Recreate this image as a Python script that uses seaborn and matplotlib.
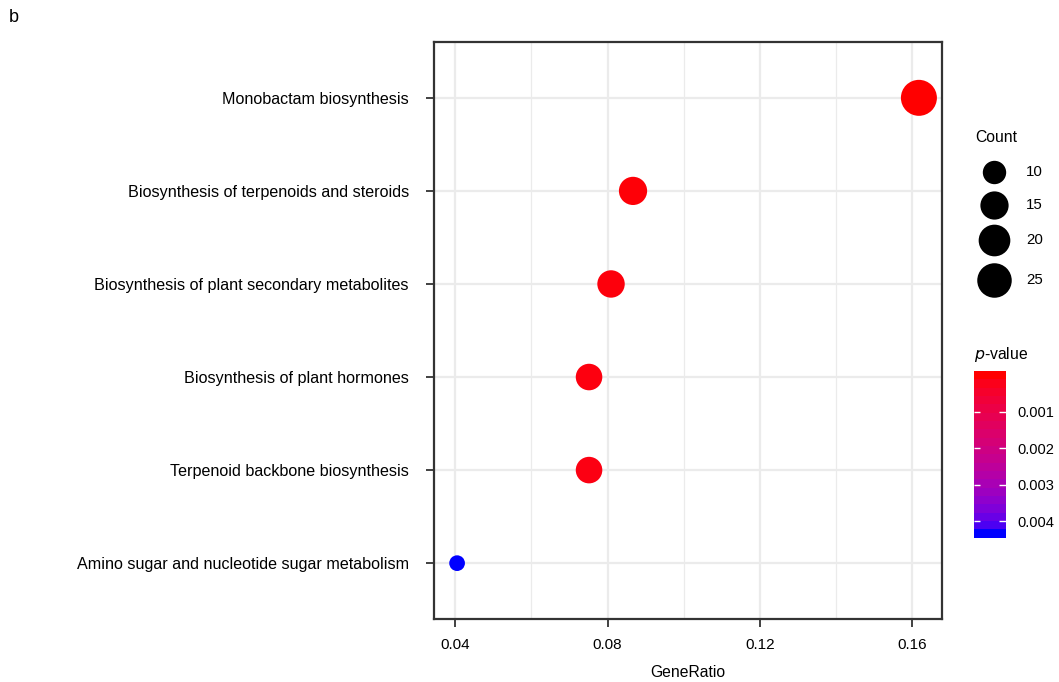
import numpy as np
import pandas as pd
import matplotlib
matplotlib.use("Agg")
import matplotlib.pyplot as plt
from matplotlib.colors import ListedColormap, Normalize
import seaborn as sns

# KEGG enrichment results
pathways = [
    "Monobactam biosynthesis",
    "Biosynthesis of terpenoids and steroids",
    "Biosynthesis of plant secondary metabolites",
    "Biosynthesis of plant hormones",
    "Terpenoid backbone biosynthesis",
    "Amino sugar and nucleotide sugar metabolism",
]
counts = [28, 15, 14, 13, 13, 7]
gene_total = 173
pvalues = [0.000002, 0.00006, 0.00009, 0.00012, 0.00014, 0.00434]

size_breaks = [10, 15, 20, 25]
p_breaks = [0.001, 0.002, 0.003, 0.004]

df = pd.DataFrame({
    "Pathway": pathways,
    "Count": counts,
    "GeneRatio": np.array(counts) / gene_total,
    "pvalue": pvalues,
})


# red -> blue gradient interpolated in CIE Lab
def _srgb_to_lab(rgb):
    rgb = np.asarray(rgb, float)
    lin = np.where(rgb <= 0.04045, rgb / 12.92, ((rgb + 0.055) / 1.055) ** 2.4)
    M = np.array([[0.4124, 0.3576, 0.1805],
                  [0.2126, 0.7152, 0.0722],
                  [0.0193, 0.1192, 0.9505]])
    xyz = lin @ M.T / np.array([0.95047, 1.0, 1.08883])
    f = np.where(xyz > 0.008856, np.cbrt(xyz), 7.787 * xyz + 16 / 116)
    return np.stack([116 * f[..., 1] - 16,
                     500 * (f[..., 0] - f[..., 1]),
                     200 * (f[..., 1] - f[..., 2])], axis=-1)


def _lab_to_srgb(lab):
    L, a, b = lab[..., 0], lab[..., 1], lab[..., 2]
    fy = (L + 16) / 116
    fx = fy + a / 500
    fz = fy - b / 200
    f = np.stack([fx, fy, fz], axis=-1)
    xyz = np.where(f ** 3 > 0.008856, f ** 3, (f - 16 / 116) / 7.787)
    xyz = xyz * np.array([0.95047, 1.0, 1.08883])
    Minv = np.array([[3.2406, -1.5372, -0.4986],
                     [-0.9689, 1.8758, 0.0415],
                     [0.0557, -0.2040, 1.0570]])
    lin = xyz @ Minv.T
    lin = np.clip(lin, 0, 1)
    rgb = np.where(lin <= 0.0031308, 12.92 * lin, 1.055 * lin ** (1 / 2.4) - 0.055)
    return np.clip(rgb, 0, 1)


t = np.linspace(0, 1, 256)[:, None]
lab_lo = _srgb_to_lab([1.0, 0.0, 0.0])
lab_hi = _srgb_to_lab([0.0, 0.0, 1.0])
grad = _lab_to_srgb(lab_lo * (1 - t) + lab_hi * t)
cmap = ListedColormap(grad)
p_norm = Normalize(vmin=min(pvalues), vmax=max(pvalues))

# point size: diameter grows with sqrt of the rescaled count
cmin, cmax = min(counts), max(counts)
d_min_px, d_max_px = 15.7, 36.0
DPI = 100


def count_area(c):
    frac = np.sqrt((c - cmin) / (cmax - cmin))
    d_px = d_min_px + (d_max_px - d_min_px) * frac
    return (d_px * 72 / DPI) ** 2


size_map = {c: count_area(c) for c in sorted(set(counts))}

sns.set_style("white")
plt.rcParams["font.family"] = ["Liberation Sans", "DejaVu Sans"]
plt.rcParams["text.color"] = "black"
plt.rcParams["axes.labelcolor"] = "black"

W, H = 1059, 682
fig = plt.figure(figsize=(W / DPI, H / DPI), dpi=DPI)
ax = fig.add_axes([434 / W, 1 - 619 / H, (942 - 434) / W, (619 - 42) / H])

sns.scatterplot(
    data=df, x="GeneRatio", y="Pathway",
    hue="pvalue", palette=cmap, hue_norm=p_norm,
    size="Count", sizes=size_map,
    linewidth=0, legend=False, zorder=3, ax=ax,
)

# axis ranges with 5% / 0.6-unit padding
xr = df["GeneRatio"].max() - df["GeneRatio"].min()
ax.set_xlim(df["GeneRatio"].min() - 0.05 * xr, df["GeneRatio"].max() + 0.05 * xr)
ax.set_ylim(len(pathways) - 1 + 0.6, -0.6)

ax.set_xticks([0.04, 0.08, 0.12, 0.16])
ax.set_xticks([0.06, 0.10, 0.14], minor=True)
ax.set_xticklabels(["0.04", "0.08", "0.12", "0.16"])
grid_col = "#EBEBEB"
ax.grid(True, which="major", axis="both", color=grid_col, linewidth=1.6, zorder=0)
ax.grid(True, which="minor", axis="x", color=grid_col, linewidth=0.9, zorder=0)
ax.set_axisbelow(True)

edge = "#333333"
for s in ax.spines.values():
    s.set_color(edge)
    s.set_linewidth(1.6)
ax.tick_params(axis="both", which="major", bottom=True, left=True,
               length=5.5, width=1.3, color=edge,
               labelsize=11, labelcolor="black")
ax.tick_params(axis="y", pad=12.5, labelsize=11.6)
ax.tick_params(axis="x", pad=8.5)
ax.tick_params(axis="x", which="minor", length=0)
ax.set_xlabel("GeneRatio", fontsize=11.3, labelpad=9, color="black")
ax.set_ylabel("")

fig.text(9 / W, 1 - 18 / H, "b", fontsize=13, va="center", ha="left")

# size legend, laid out in pixel coordinates
leg = fig.add_axes([0, 0, 1, 1], zorder=5)
leg.set_xlim(0, W)
leg.set_ylim(H, 0)
leg.axis("off")
leg.patch.set_alpha(0)
leg.text(975, 137, "Count", fontsize=11.3, va="center", ha="left")
key_y = [171.7, 205, 240, 280]
for c, yk in zip(size_breaks, key_y):
    leg.scatter([994], [yk], s=count_area(c), color="black", linewidth=0)
    leg.text(1026, yk, str(c), fontsize=10.8, va="center", ha="left")

# p-value colour bar (20 bins)
nbin = 20
pmin, pmax = min(pvalues), max(pvalues)
step = (pmax - pmin) / (nbin - 1)
bin_vals = np.linspace(pmin, pmax, nbin)
edges = np.linspace(pmin - step / 2, pmax + step / 2, nbin + 1)
cax = fig.add_axes([974 / W, 1 - 537.7 / H, (1005.7 - 974) / W, (537.7 - 371) / H])
cax.pcolormesh([0, 1], edges, bin_vals[:, None], cmap=cmap, norm=p_norm,
               shading="flat", zorder=1)
cax.hlines(p_breaks, 0, 0.2, colors="white", linewidth=1.0, zorder=2)
cax.hlines(p_breaks, 0.8, 1, colors="white", linewidth=1.0, zorder=2)
cax.set_ylim(edges[-1], edges[0])
cax.set_xlim(0, 1)
cax.set_xticks([])
cax.set_yticks(p_breaks)
cax.set_yticklabels([f"{b:.3f}" for b in p_breaks])
cax.tick_params(axis="y", left=False, right=False,
                labelleft=False, labelright=True,
                length=0, labelsize=10.5, pad=8.5, labelcolor="black")
for s in cax.spines.values():
    s.set_visible(False)
leg.text(974, 354, r"$\it{p}$-value", fontsize=11.3, va="center", ha="left")

fig.savefig("out.png", dpi=DPI)
